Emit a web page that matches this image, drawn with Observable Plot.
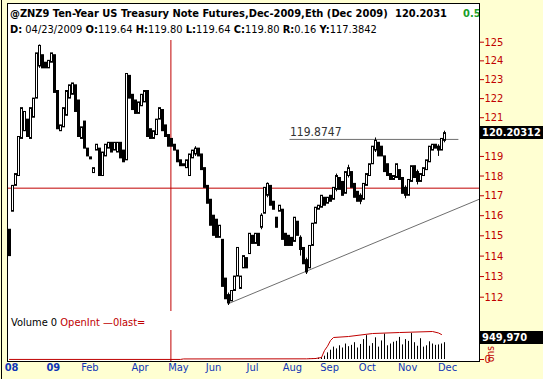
<!DOCTYPE html>
<html><head><meta charset="utf-8">
<script src="https://cdn.jsdelivr.net/npm/d3@7"></script>
<script src="https://cdn.jsdelivr.net/npm/@observablehq/plot@0.6"></script>
<style>
html,body{margin:0;padding:0;background:#ffffd2;}
#wrap{position:relative;width:543px;height:379px;overflow:hidden;background:#ffffd2;font-family:Tahoma,"DejaVu Sans Condensed","Liberation Sans",sans-serif;}
#lline{position:absolute;left:1px;top:0;width:1px;height:379px;background:#000;}
#panel{position:absolute;left:7px;top:3px;width:473px;height:359px;box-sizing:border-box;border:1px solid #000;background:#fff;overflow:hidden;}
.abs{position:absolute;white-space:nowrap;}
#price,#vol{position:absolute;left:0;}
svg{overflow:visible;}
.hdr{font-size:11px;color:#000;}
.b{font-weight:bold;}
.red{color:#c00000;}
.box{background:#000;color:#fff;font-weight:bold;font-size:11px;line-height:13px;height:13px;padding-left:2px;}
</style></head><body><div id="wrap">
<div id="lline"></div>
<div id="panel">
  <div class="abs hdr b" style="left:2px;top:3px;">@ZNZ9 Ten-Year US Treasury Note Futures,Dec-2009,Eth (Dec 2009)</div>
  <div class="abs hdr b" style="left:387px;top:3px;">120.2031</div>
  <div class="abs hdr b" style="left:455px;top:3px;color:#1a9e2a;">0.5</div>
  <div class="abs hdr" style="left:2px;top:19px;"><span class="b">D:</span> 04/23/2009 <span class="b">O:</span>119.64 <span class="b">H:</span>119.80 <span class="b">L:</span>119.64 <span class="b">C:</span>119.80 <span class="b">R:</span>0.16 <span class="b">Y:</span>117.3842</div>
  <div class="abs hdr" style="left:3px;top:312px;font-size:11px;">Volume 0 <span class="red">OpenInt</span> <span class="red">&#8212;0last=</span></div>
</div>
<div id="price"></div>
<div id="vol"></div>
<div id="over"></div>
</div>
<script>
// ---- price data (one candle per ~3 px step) ----
const opens = [115.3,116.2,117.5,118.0,119.9,120.3,120.9,119.9,121.0,122.0,
123.7,124.3,123.9,123.6,123.9,124.3,122.4,120.3,120.5,121.1,
122.0,122.2,122.7,121.9,119.9,120.8,119.4,118.95,118.15,119.3,
119.4,118.0,119.0,119.4,119.7,119.3,119.2,119.7,119.3,118.8,
123.2,122.2,121.9,121.2,121.6,121.8,122.4,120.4,119.9,120.1,
120.9,121.4,120.6,120.1,119.9,119.6,119.3,118.8,118.5,118.4,
118.0,118.9,119.1,119.4,119.1,118.4,117.5,116.8,116.0,115.8,
114.9,114.8,112.9,112.1,111.8,112.3,113.0,112.4,113.4,113.9,
114.1,115.0,114.6,115.1,115.4,116.1,117.0,117.5,116.7,115.9,
116.2,116.3,115.1,115.0,114.9,114.7,115.7,114.9,114.4,113.8,
113.4,114.5,115.6,116.3,116.4,116.9,116.6,117.0,116.8,117.3,
117.9,117.7,117.1,118.0,118.2,117.6,117.2,117.0,116.8,117.5,
118.0,118.6,119.3,119.7,119.5,119.0,118.6,118.1,117.8,117.9,
118.3,117.9,117.4,117.0,117.7,118.5,118.2,117.7,118.0,118.3,
118.7,119.3,119.6,119.5,119.3,119.8];
const closes = [114.0,117.5,118.1,120.0,121.5,121.3,120.0,121.5,122.0,124.4,
124.8,123.6,123.6,124.0,124.4,122.3,120.4,120.6,121.5,122.4,
122.7,122.8,121.3,120.0,120.5,119.4,119.0,118.85,118.4,119.6,
118.0,119.2,119.6,119.7,119.2,119.7,119.7,118.9,118.7,123.3,
122.0,121.4,121.2,121.8,122.2,122.4,120.0,119.9,120.3,120.9,
121.5,120.3,120.0,119.5,119.5,119.3,118.7,118.5,118.6,118.8,
119.1,119.3,119.4,119.0,118.3,117.4,116.6,115.5,115.0,114.9,
115.5,112.5,111.9,111.7,112.3,113.0,114.4,113.0,114.0,113.4,
115.1,114.6,115.1,114.5,116.0,117.4,117.6,116.5,116.3,115.4,
116.5,114.8,114.5,114.5,114.5,115.9,115.0,114.3,113.6,113.2,
114.5,115.6,116.4,116.5,117.0,116.5,116.9,116.7,117.4,118.0,
117.3,117.0,118.2,118.4,117.4,116.9,116.7,116.7,117.6,118.1,
118.6,119.5,119.8,119.0,119.0,118.2,118.0,117.8,118.0,118.6,
117.8,117.1,117.0,117.8,118.5,117.9,117.7,118.1,118.4,118.8,
119.5,119.6,119.4,119.3,119.9,120.2];
// visible wicks: [bar, low, high]
const wicks = [[10,123.6,124.85],[62,119.0,119.5],[73,111.6,112.2],[84,115.3,116.1],[86,116.9,117.65],
[97,114.0,115.0],[99,113.1,113.9],[109,117.2,118.1],[113,117.9,118.55],[117,116.55,117.1],
[122,119.2,119.95],[132,116.85,117.5],[136,117.55,118.3],[143,119.0,119.6],[145,119.7,120.3]];
const priceTicks = [112,113,114,115,116,117,118,119,121,122,123,124,125];
const lastPrice = 120.20312;
const cursorBar = 53.8, cursorPrice = 117.3842;
const levelPrice = 119.8747, levelFrom = 93.5, levelTo = 149.8;
const trend = [[72.8,111.68],[156.5,116.82]];
// ---- volume / open interest (thousands of contracts) ----
const volBars = [100,101,102,103,104,105,106,107,108,109,110,111,112,113,114,115,116,117,118,119,120,121,122,123,124,125,126,127,128,129,130,131,132,133,134,135,136,137,138,139,140,141,142,143,144,145];
const volVals = [20,25,40,60,90,150,300,420,560,480,620,520,700,580,640,760,520,680,900,1080,600,720,980,560,840,1150,620,700,780,820,1000,660,900,820,1180,760,600,940,560,620,800,700,640,660,700,760];
const oiBars = [0,57,58,99,102,104,105,106,107,108,113,121,130,141,143,144];
const oiVals = [3,3,25,30,45,90,407,600,860,995,1040,1175,1220,1266,1200,1130];
const oiLast = 949.970;
// ---- x axis labels ----
const xLabels = ["08","09","Feb","Apr","May","Jun","Jul","Aug","Sep","Oct","Nov","Dec"];
const xLabelBars = [0.7,14.6,26.8,43.5,56.3,68,81,94.3,106.7,119.3,132.7,146];
const xLabelBold = [true,true,false,false,false,false,false,false,false,false,false,false];

const FONT = 'Tahoma,"DejaVu Sans Condensed","Liberation Sans",sans-serif';
const RED = "#c00000";
const bars = opens.map((o,i)=>({i,o,c:closes[i]}));
const up = bars.filter(d=>d.c>=d.o), dn = bars.filter(d=>d.c<d.o);
const wk = wicks.map(([i,l,h])=>({i,l,h}));
const xDom = [-1/3, 157 - 1/3];
const labs = xLabels.map((t,k)=>({t, x:xLabelBars[k], b:xLabelBold[k]}));

const price = Plot.plot({
  width:543, height:311, marginLeft:8, marginRight:64, marginTop:40, marginBottom:0,
  style:{background:"transparent", fontFamily:FONT},
  x:{domain:xDom, axis:null},
  y:{type:"log", domain:[112,125], range:[296.7,41.7]},
  marks:[
    Plot.ruleY([cursorPrice],{stroke:RED, strokeWidth:1}),
    Plot.ruleX([cursorBar],{stroke:RED, strokeWidth:1}),
    Plot.link([trend],{x1:d=>d[0][0],y1:d=>d[0][1],x2:d=>d[1][0],y2:d=>d[1][1],stroke:"#6e6e6e",strokeWidth:1}),
    Plot.ruleY([levelPrice],{x1:levelFrom,x2:levelTo,stroke:"#6e6e6e",strokeWidth:1}),
    Plot.text([levelPrice],{x:levelFrom,y:d=>d,text:d=>String(d),textAnchor:"start",dy:-7,fill:"#333",fontSize:12}),
    Plot.ruleX(wk,{x:"i",y1:"l",y2:"h",stroke:"#000",strokeWidth:1}),
    Plot.rect(dn,{x1:d=>d.i-1/6,x2:d=>d.i+1/2,y1:"o",y2:"c",fill:"#000",stroke:"#000",strokeWidth:1}),
    Plot.rect(up,{x1:d=>d.i-1/6,x2:d=>d.i+1/2,y1:"o",y2:"c",fill:"#fff",stroke:"#000",strokeWidth:1}),
    Plot.axisY({anchor:"right",ticks:priceTicks,tickFormat:d=>String(d),tickSize:4,tickPadding:1,color:RED,fontSize:11,label:null})
  ]
});
document.getElementById("price").appendChild(price);

const vol = Plot.plot({
  width:543, height:67, marginLeft:8, marginRight:64, marginTop:18, marginBottom:18,
  style:{background:"transparent", fontFamily:FONT},
  x:{domain:xDom, axis:null},
  y:{domain:[0,oiLast], range:[47,26]},
  marks:[
    Plot.ruleX(volBars.map((b,k)=>({i:b,v:volVals[k]})),{x:"i",y:"v",stroke:"#000",strokeWidth:1}),
    Plot.line(oiBars.map((b,k)=>({i:b,v:oiVals[k]})),{x:"i",y:"v",stroke:RED,strokeWidth:1}),
    Plot.ruleX([cursorBar],{stroke:RED,strokeWidth:1}),
    Plot.axisY({anchor:"right",ticks:[0],tickSize:4,tickPadding:1,color:RED,fontSize:11,label:null}),
    Plot.text(labs.filter(d=>d.b),{x:"x",text:"t",frameAnchor:"bottom",dy:9,fill:"#1035b5",fontWeight:"bold",fontSize:11}),
    Plot.text(labs.filter(d=>!d.b),{x:"x",text:"t",frameAnchor:"bottom",dy:9,fill:"#1035b5",fontSize:11})
  ]
});
document.getElementById("vol").style.top="312px";
document.getElementById("vol").appendChild(vol);

// overlay value boxes positioned through the scales
const over = document.getElementById("over");
const py = price.scale("y").apply(lastPrice);
const b1 = document.createElement("div");
b1.className="abs box"; b1.style.left="480px"; b1.style.width="61px"; b1.style.top=(py-7)+"px";
b1.textContent = String(lastPrice);
over.appendChild(b1);
const vy = 312 + vol.scale("y").apply(oiLast);
const b2 = document.createElement("div");
b2.className="abs box"; b2.style.left="480px"; b2.style.width="61px"; b2.style.top=(vy-7)+"px";
b2.textContent = d3.format(",")(Math.round(oiLast*1000));
over.appendChild(b2);
const rot = document.createElement("div");
rot.className="abs"; rot.style.cssText+="left:485px;top:346px;font-size:10px;color:#c00000;transform-origin:0 0;transform:rotate(-90deg) translate(-16px,0);";
rot.textContent="ons";
over.appendChild(rot);
</script>
</body></html>
